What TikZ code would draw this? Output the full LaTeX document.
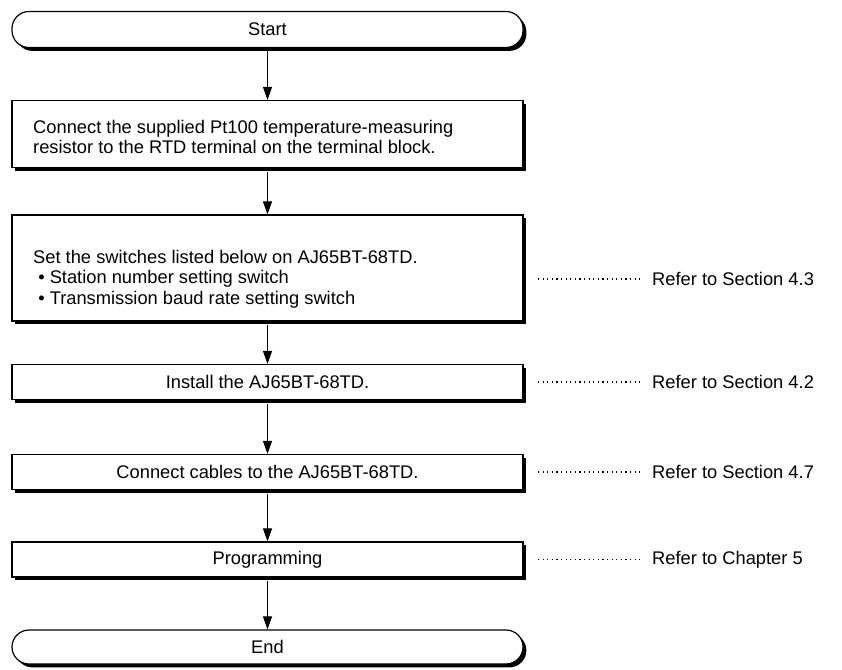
\documentclass[tikz,border=0pt]{standalone}
\usepackage{fontspec}
\setmainfont{Liberation Sans}
\usetikzlibrary{arrows.meta,shadows}
\begin{document}
\begin{tikzpicture}[x=1pt,y=-1pt,
  font=\fontsize{18.3}{20.5}\selectfont,
  shad/.style={drop shadow={shadow xshift=3.4pt,shadow yshift=-3.4pt,fill=black,opacity=1,shadow scale=1}},
  procbox/.style={draw,line width=1.2pt,fill=white,shad,minimum width=511pt,inner sep=0pt,anchor=center},
  termbox/.style={procbox,rounded corners=17pt},
  boxtext/.style={anchor=west,align=left,inner sep=0pt},
  arr/.style={line width=1pt,-{Triangle[length=13pt,width=9pt]}},
  lead/.style={line width=1.2pt,dash pattern=on 1.2pt off 3.4pt},
  reftext/.style={anchor=west,inner sep=0pt}
]
\useasboundingbox (0,0) rectangle (842,669);
\node[termbox,minimum height=36pt] (start) at (267.5,29.5) {Start};
\node[procbox,minimum height=67pt] (b1) at (267.5,134) {};
\node[boxtext] (t1) at (33,137)
  {Connect the supplied Pt100 temperature-measuring\\resistor to the RTD terminal on the terminal block.};
\node[procbox,minimum height=106pt] (b2) at (267.5,268) {};
\node[boxtext] (t2) at (33,279)
  {Set the switches listed below on AJ65BT-68TD.\\
   \ \textbullet\ Station number setting switch\\
   \ \textbullet\ Transmission baud rate setting switch};
\node[procbox,minimum height=35pt] (b3) at (267.5,382) {Install the AJ65BT-68TD.};
\node[procbox,minimum height=35pt] (b4) at (267.5,472) {Connect cables to the AJ65BT-68TD.};
\node[procbox,minimum height=35pt] (b5) at (267.5,559.5) {Programming};
\node[termbox,minimum height=34pt] (end) at (267.5,647) {End};

\draw[arr] ([yshift=-3.4pt]start.south) -- (b1.north);
\draw[arr] ([yshift=-3.4pt]b1.south) -- (b2.north);
\draw[arr] ([yshift=-3.4pt]b2.south) -- (b3.north);
\draw[arr] ([yshift=-3.4pt]b3.south) -- (b4.north);
\draw[arr] ([yshift=-3.4pt]b4.south) -- (b5.north);
\draw[arr] ([yshift=-3.4pt]b5.south) -- (end.north);

\node[reftext] (r2) at (652,279) {Refer to Section 4.3};
\node[reftext] (r3) at (652,382) {Refer to Section 4.2};
\node[reftext] (r4) at (652,472) {Refer to Section 4.7};
\node[reftext] (r5) at (652,559.5) {Refer to Chapter 5};
\coordinate (l2) at (538,279);
\coordinate (l3) at (538,382);
\coordinate (l4) at (538,472);
\coordinate (l5) at (538,559.5);
\draw[lead] (l2) -- ([xshift=-9pt]r2.west);
\draw[lead] (l3) -- ([xshift=-9pt]r3.west);
\draw[lead] (l4) -- ([xshift=-9pt]r4.west);
\draw[lead] (l5) -- ([xshift=-9pt]r5.west);
\end{tikzpicture}
\end{document}
